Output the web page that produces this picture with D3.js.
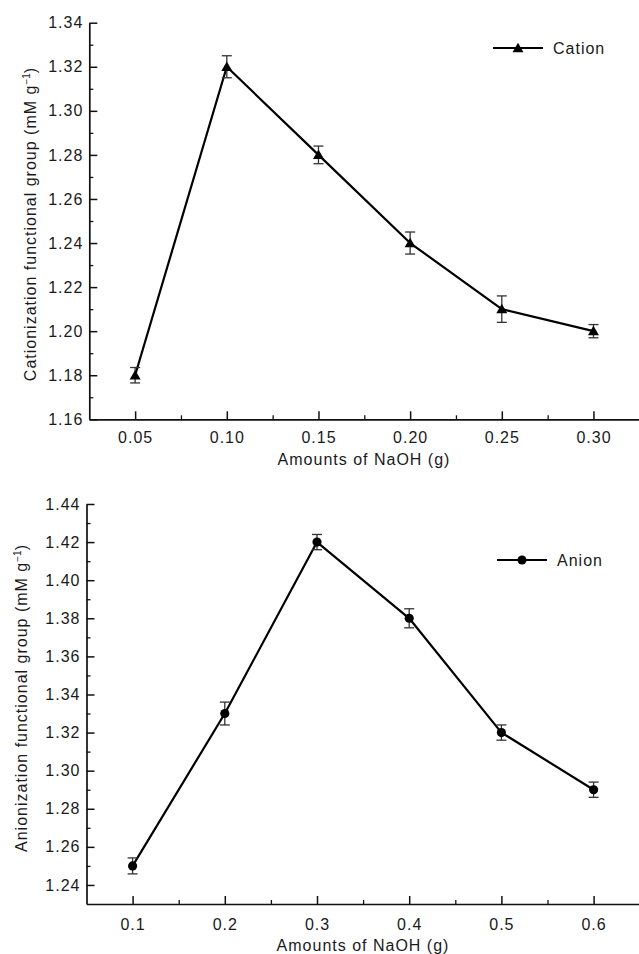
<!DOCTYPE html>
<html>
<head>
<meta charset="utf-8">
<script src="https://cdn.jsdelivr.net/npm/d3@7"></script>
<style>
  html, body { margin: 0; padding: 0; background: #fff; }
  svg { display: block; font-family: "Liberation Sans", Arial, Helvetica, sans-serif; }
  .axis text { font-size: 16px; letter-spacing: 1px; fill: #1a1a1a; }
  .axis path, .axis line { stroke: #111; }
</style>
</head>
<body>
<svg id="chart" width="639" height="954"></svg>
<script>
// ---- Data: panel (a) cationization ----
const cationDose = [0.05, 0.10, 0.15, 0.20, 0.25, 0.30];
const cationValue = [1.18, 1.32, 1.28, 1.24, 1.21, 1.20];
const cationError = [0.0035, 0.005, 0.004, 0.005, 0.006, 0.003];
const cationXTicks = [0.05, 0.10, 0.15, 0.20, 0.25, 0.30];
const cationXMinor = [0.075, 0.125, 0.175, 0.225, 0.275];
const cationYTicks = [1.16, 1.18, 1.20, 1.22, 1.24, 1.26, 1.28, 1.30, 1.32, 1.34];
const cationYMinor = [1.17, 1.19, 1.21, 1.23, 1.25, 1.27, 1.29, 1.31, 1.33];

// ---- Data: panel (b) anionization ----
const anionDose = [0.1, 0.2, 0.3, 0.4, 0.5, 0.6];
const anionValue = [1.25, 1.33, 1.42, 1.38, 1.32, 1.29];
const anionError = [0.0042, 0.006, 0.004, 0.005, 0.004, 0.004];
const anionXTicks = [0.1, 0.2, 0.3, 0.4, 0.5, 0.6];
const anionXMinor = [0.15, 0.25, 0.35, 0.45, 0.55];
const anionYTicks = [1.24, 1.26, 1.28, 1.30, 1.32, 1.34, 1.36, 1.38, 1.40, 1.42, 1.44];
const anionYMinor = [1.25, 1.27, 1.29, 1.31, 1.33, 1.35, 1.37, 1.39, 1.41, 1.43];

const xTitle = "Amounts of NaOH (g)";
const cationYTitle = "Cationization functional group (mM g";
const anionYTitle = "Anionization functional group (mM g";

const svg = d3.select("#chart");

function panel(cfg) {
  const g = svg.append("g");
  const x = d3.scaleLinear().domain(cfg.xDomain).range(cfg.xRange);
  const y = d3.scaleLinear().domain(cfg.yDomain).range(cfg.yRange);
  const x0 = cfg.xRange[0], yBase = cfg.yRange[0];

  // minor ticks
  g.append("g").attr("class", "axis").attr("transform", `translate(0,${yBase})`)
    .call(d3.axisBottom(x).tickValues(cfg.xMinor).tickSizeInner(-4).tickSizeOuter(0).tickFormat(""))
    .call(s => s.select(".domain").remove())
    .selectAll("line").attr("stroke-width", 1.3);
  g.append("g").attr("class", "axis").attr("transform", `translate(${x0},0)`)
    .call(d3.axisLeft(y).tickValues(cfg.yMinor).tickSizeInner(-4).tickSizeOuter(0).tickFormat(""))
    .call(s => s.select(".domain").remove())
    .selectAll("line").attr("stroke-width", 1.3);

  // major axes
  const xa = g.append("g").attr("class", "axis").attr("transform", `translate(0,${yBase})`)
    .call(d3.axisBottom(x).tickValues(cfg.xTicks).tickSizeInner(-8).tickSizeOuter(0)
      .tickPadding(cfg.xPad).tickFormat(d3.format(cfg.xFmt)));
  xa.select(".domain").attr("stroke-width", 1.7);
  xa.selectAll("line").attr("stroke-width", 1.5);

  const ya = g.append("g").attr("class", "axis").attr("transform", `translate(${x0},0)`)
    .call(d3.axisLeft(y).tickValues(cfg.yTicks).tickSizeInner(-8).tickSizeOuter(0)
      .tickPadding(6).tickFormat(d3.format(".2f")));
  ya.select(".domain").attr("stroke-width", 1.7);
  ya.selectAll("line").attr("stroke-width", 1.5);

  // x title
  g.append("text").attr("x", cfg.xTitlePos[0]).attr("y", cfg.xTitlePos[1])
    .attr("text-anchor", "middle").style("font-size", "16px").style("letter-spacing", "1px")
    .attr("fill", "#1a1a1a").text(xTitle);

  // y title with superscript
  const yt = g.append("text")
    .attr("transform", `translate(${cfg.yTitlePos[0]},${cfg.yTitlePos[1]}) rotate(-90)`)
    .attr("text-anchor", "middle").style("font-size", "16px").style("letter-spacing", "1px")
    .attr("fill", "#1a1a1a");
  yt.append("tspan").text(cfg.yTitle);
  yt.append("tspan").attr("dy", -6).style("font-size", "10px").style("letter-spacing", "0px").text("\u22121");
  yt.append("tspan").attr("dy", 6).text(")");

  const pts = cfg.dose.map((d, i) => ({ d, v: cfg.value[i], e: cfg.error[i] }));

  // connecting line
  g.append("path").datum(pts)
    .attr("fill", "none").attr("stroke", "#000").attr("stroke-width", 2.2)
    .attr("stroke-linejoin", "round")
    .attr("d", d3.line().x(p => x(p.d)).y(p => y(p.v)));

  // error bars
  const eb = g.append("g").attr("stroke", "#333").attr("stroke-width", 1.3);
  eb.selectAll(".v").data(pts).join("line")
    .attr("x1", p => x(p.d)).attr("x2", p => x(p.d))
    .attr("y1", p => y(p.v - p.e)).attr("y2", p => y(p.v + p.e));
  eb.selectAll(".t").data(pts).join("line")
    .attr("x1", p => x(p.d) - 5).attr("x2", p => x(p.d) + 5)
    .attr("y1", p => y(p.v + p.e)).attr("y2", p => y(p.v + p.e));
  eb.selectAll(".b").data(pts).join("line")
    .attr("x1", p => x(p.d) - 5).attr("x2", p => x(p.d) + 5)
    .attr("y1", p => y(p.v - p.e)).attr("y2", p => y(p.v - p.e));

  // markers
  const sym = d3.symbol().type(cfg.symbol).size(cfg.symSize);
  g.selectAll(".m").data(pts).join("path")
    .attr("transform", p => `translate(${x(p.d)},${y(p.v) + cfg.symOffset})`)
    .attr("d", sym).attr("fill", "#000");

  // legend
  const [lx, ly] = cfg.legendPos;
  g.append("line").attr("x1", lx).attr("x2", lx + 50).attr("y1", ly).attr("y2", ly)
    .attr("stroke", "#000").attr("stroke-width", 2.2);
  g.append("path").attr("transform", `translate(${lx + 25},${ly + cfg.symOffset})`)
    .attr("d", sym).attr("fill", "#000");
  g.append("text").attr("x", lx + 60).attr("y", ly + 6)
    .style("font-size", "16px").style("letter-spacing", "1px").attr("fill", "#1a1a1a")
    .text(cfg.legend);
}

panel({
  xDomain: [0.025, 0.325], xRange: [89.3, 639.3],
  yDomain: [1.16, 1.34], yRange: [419.3, 22.7],
  xTicks: cationXTicks, xMinor: cationXMinor, yTicks: cationYTicks, yMinor: cationYMinor,
  xFmt: ".2f", xPad: 12,
  xTitlePos: [364, 465], yTitlePos: [36, 224], yTitle: cationYTitle,
  dose: cationDose, value: cationValue, error: cationError,
  symbol: d3.symbolTriangle, symSize: 52, symOffset: 1,
  legendPos: [493, 48], legend: "Cation"
});

panel({
  xDomain: [0.05, 0.65], xRange: [86.5, 639.7],
  yDomain: [1.23, 1.44], yRange: [904, 504],
  xTicks: anionXTicks, xMinor: anionXMinor, yTicks: anionYTicks, yMinor: anionYMinor,
  xFmt: ".1f", xPad: 14.5,
  xTitlePos: [363, 951], yTitlePos: [27, 698], yTitle: anionYTitle,
  dose: anionDose, value: anionValue, error: anionError,
  symbol: d3.symbolCircle, symSize: 66, symOffset: 0,
  legendPos: [497, 560], legend: "Anion"
});
</script>
</body>
</html>
